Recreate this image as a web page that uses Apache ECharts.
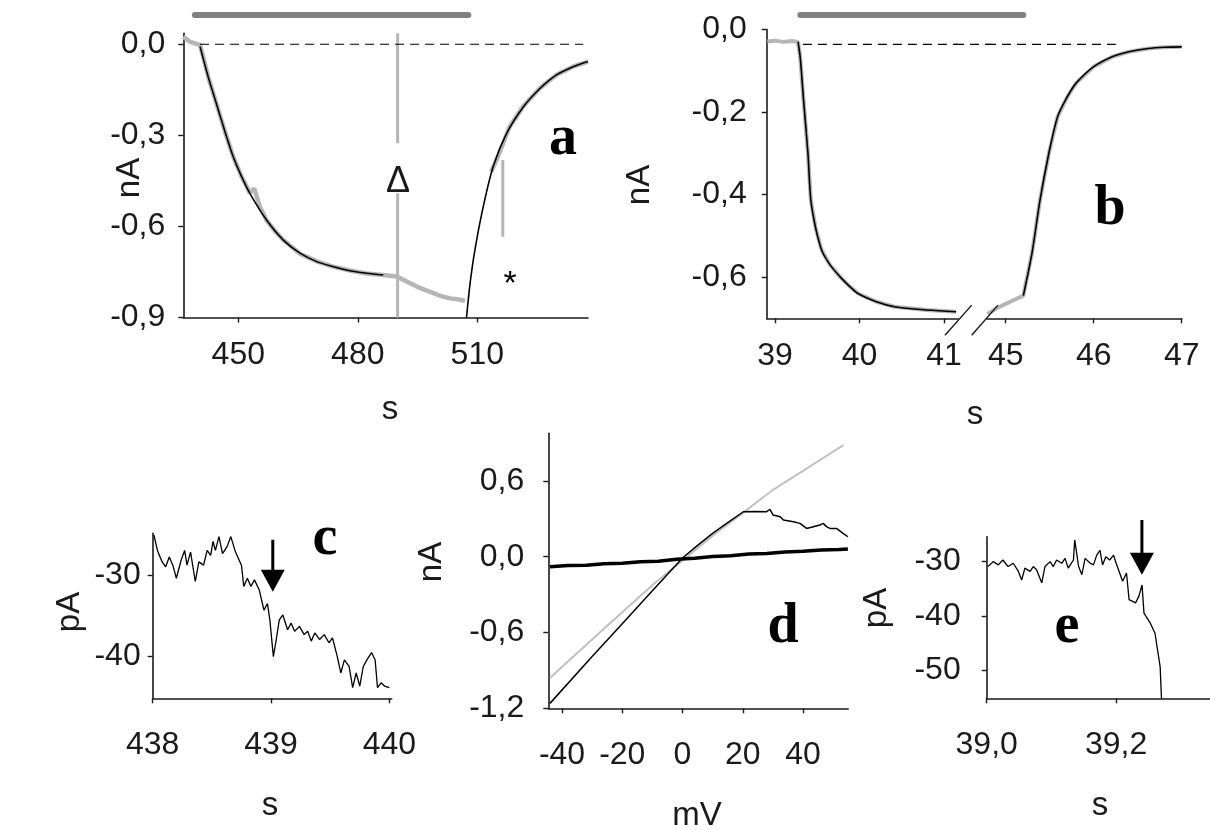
<!DOCTYPE html>
<html>
<head>
<meta charset="utf-8">
<script src="https://cdn.jsdelivr.net/npm/echarts@6/dist/echarts.min.js"></script>
<style>
html, body { margin: 0; background: #fff; }
#chart { width: 1210px; height: 830px; }
</style>
</head>
<body>
<div id="chart"></div>
<script>
// ---- panel a : slow current, s / nA ----
var aXTicks = [450, 480, 510];
var aYTicks = [0, -0.3, -0.6, -0.9];
var aTraceT = [436.2, 437.9, 440.4, 442.5, 444.6, 446.7, 448.7, 450.8, 452.9, 454.0, 455.4, 457.1, 459.2, 461.3, 465.5, 469.7, 473.9, 478.0, 482.2, 486.4, 489.8, 492.0, 494.8, 497.0, 499.0, 501.0, 503.2, 505.0, 506.9];
var aTraceI = [0.024, 0.008, -0.002, -0.11, -0.20, -0.29, -0.37, -0.435, -0.49, -0.475, -0.535, -0.58, -0.615, -0.645, -0.69, -0.715, -0.733, -0.745, -0.755, -0.76, -0.765, -0.78, -0.798, -0.81, -0.82, -0.83, -0.837, -0.84, -0.845];
var aTraceOffT = [513.5, 515.5, 518.0, 521.5, 525.7, 530.0, 534.0, 537.8];
var aTraceOffI = [-0.42, -0.36, -0.275, -0.205, -0.145, -0.10, -0.074, -0.057];
var aFitOnT = [440.4, 442.5, 444.6, 446.7, 448.7, 450.8, 452.9, 457.1, 461.3, 465.5, 469.7, 473.9, 478.0, 482.2, 486.4];
var aFitOnI = [-0.008, -0.11, -0.20, -0.29, -0.37, -0.435, -0.491, -0.579, -0.645, -0.688, -0.716, -0.733, -0.746, -0.754, -0.76];
var aFitOffT = [507.3, 508.2, 509.4, 511.5, 514.0, 517.4, 521.6, 525.8, 529.9, 534.1, 537.8];
var aFitOffI = [-0.90, -0.787, -0.678, -0.535, -0.403, -0.293, -0.206, -0.145, -0.101, -0.074, -0.057];
var aStimT = [439.1, 507.75], aStimLevel = 0.0965;
var aBaseT = [440.4, 536.6];
var aDeltaT = 490.0, aDeltaTop = [0.036, -0.326], aDeltaBottom = [-0.491, -0.9];
var aStarT = 516.4, aStarI = [-0.381, -0.634];

// ---- panel b : fast current, broken time axis ----
var bYTicks = [0, -0.2, -0.4, -0.6];
var bXTicksL = [39, 40, 41];
var bXTicksR = [45, 46, 47];
var bPreT = [38.91, 39.0, 39.1, 39.2];
var bPreI = [-0.029, -0.027, -0.03, -0.028];
var bOnT = [39.273, 39.30, 39.338, 39.39, 39.424, 39.48, 39.553, 39.65, 39.768, 39.87, 39.983, 40.2, 40.414, 40.8, 41.144];
var bOnI = [-0.03, -0.07, -0.171, -0.30, -0.413, -0.48, -0.535, -0.57, -0.599, -0.62, -0.64, -0.66, -0.672, -0.68, -0.684];
var bMidT = [44.79, 44.9, 45.0, 45.1];
var bMidI = [-0.69, -0.675, -0.665, -0.655];
var bOffT = [45.2, 45.3, 45.39, 45.49, 45.59, 45.7, 45.8, 46.0, 46.21, 46.4, 46.62, 46.8, 47.0];
var bOffI = [-0.645, -0.54, -0.413, -0.30, -0.211, -0.163, -0.13, -0.09, -0.066, -0.054, -0.046, -0.043, -0.042];
var bStimL = [39.30, 41.166], bStimR = [44.787, 45.20], bStimLevel = 0.035;
var bBaseL = [39.33, 41.166], bBaseR = [44.787, 46.25], bBaseLevel = -0.036;
// the axis break: bridge pieces and the two slashes, in 0..1 units across the gap
var bGapBridge = [0.25, 0.85];
var bSlash1 = [[0.083, -0.741], [0.528, -0.668]];
var bSlash2 = [[0.528, -0.741], [0.967, -0.668]];

// ---- panel c : onset, s / pA ----
var cXTicks = [438, 439, 440];
var cYTicks = [-30, -40];
var cT = [438.01, 438.04, 438.08, 438.11, 438.14, 438.17, 438.20, 438.24, 438.27, 438.29, 438.32, 438.36, 438.39, 438.43, 438.46, 438.49, 438.51, 438.53, 438.56, 438.59, 438.63, 438.66, 438.70, 438.75, 438.77, 438.80, 438.83, 438.86, 438.90, 438.94, 438.97, 438.99, 439.02, 439.04, 439.07, 439.10, 439.14, 439.17, 439.20, 439.24, 439.28, 439.31, 439.34, 439.37, 439.41, 439.45, 439.49, 439.52, 439.56, 439.59, 439.62, 439.66, 439.69, 439.72, 439.75, 439.78, 439.81, 439.85, 439.88, 439.90, 439.93, 439.96, 440.00];
var cI = [-25.1, -27.0, -28.4, -29.0, -27.8, -28.8, -30.4, -28.2, -27.0, -28.8, -27.2, -30.8, -28.4, -28.8, -27.0, -27.6, -25.9, -27.0, -25.3, -27.4, -26.5, -25.3, -27.2, -28.8, -31.4, -30.4, -31.4, -30.6, -31.8, -34.3, -33.5, -35.5, -40.0, -38.3, -35.5, -34.9, -36.7, -35.9, -36.9, -36.3, -37.3, -36.9, -38.1, -37.1, -37.9, -37.3, -38.3, -37.7, -40.0, -42.0, -40.4, -41.2, -43.8, -42.0, -43.6, -41.2, -40.4, -39.5, -40.4, -43.8, -43.2, -43.6, -43.8];
var cArrowT = 439.015, cArrowI = [-25.7, -30.7];

// ---- panel d : I-V, mV / nA ----
var dXTicks = [-40, -20, 0, 20, 40];
var dYTicks = [0.6, 0, -0.6, -1.2];
var dGreyV = [-44, -30, -20, -10, 0, 10, 20, 30, 40, 53.4];
var dGreyI = [-0.96, -0.655, -0.44, -0.225, -0.03, 0.165, 0.345, 0.528, 0.68, 0.884];
var dBlackV = [-44, -30, -20, -10, 0, 5, 10, 15, 20.2, 24, 27.9, 29.0, 30.1, 32.4, 33.5, 36.8, 39.0, 41.2, 43.4, 45.6, 46.7, 47.8, 48.9, 51.1, 53.3, 54.9];
var dBlackI = [-1.161, -0.79, -0.53, -0.27, -0.01, 0.09, 0.185, 0.27, 0.356, 0.358, 0.356, 0.375, 0.33, 0.317, 0.29, 0.277, 0.264, 0.224, 0.238, 0.251, 0.264, 0.238, 0.224, 0.224, 0.185, 0.158];
var dLeakV = [-44, -38, -32, -26, -20, -14, -8, -2, 4, 10, 16, 22, 28, 34, 40, 46, 52, 54.9];
var dLeakI = [-0.079, -0.07, -0.068, -0.056, -0.052, -0.04, -0.035, -0.02, -0.012, 0.002, 0.008, 0.021, 0.026, 0.038, 0.043, 0.054, 0.057, 0.062];

// ---- panel e : onset, s / pA ----
var eXTicks = [39.0, 39.2];
var eYTicks = [-30, -40, -50];
var eT = [39.002, 39.010, 39.018, 39.025, 39.033, 39.041, 39.049, 39.054, 39.059, 39.067, 39.072, 39.077, 39.085, 39.090, 39.098, 39.103, 39.108, 39.116, 39.121, 39.126, 39.134, 39.136, 39.142, 39.147, 39.152, 39.160, 39.165, 39.170, 39.175, 39.179, 39.184, 39.190, 39.196, 39.200, 39.210, 39.216, 39.220, 39.230, 39.235, 39.240, 39.243, 39.253, 39.260, 39.268, 39.270];
var eI = [-30.9, -30.0, -30.6, -29.7, -30.9, -30.3, -31.8, -33.4, -31.2, -31.8, -30.9, -31.5, -33.9, -30.9, -30.0, -30.9, -29.7, -30.3, -29.4, -31.2, -29.7, -26.0, -30.9, -32.4, -29.4, -30.3, -30.6, -28.8, -27.9, -30.6, -29.1, -29.7, -28.8, -30.3, -33.6, -32.1, -37.0, -37.6, -36.4, -34.3, -39.5, -41.4, -43.2, -49.4, -55.2];
var eArrowT = 39.2398, eArrowI = [-22.3, -30.4];

var chart = echarts.init(document.getElementById('chart'));

var FONT = 'Liberation Sans';
var INK = '#1a1a1a';
var GREY = '#b5b5b5';

function pairs(xs, ys) {
    return xs.map(function (x, i) { return [x, ys[i]]; });
}
function comma(d) {
    return function (v) { return v.toFixed(d).replace('.', ','); };
}
function axis(grid, min, max, ticks, fmt, margin, hidden) {
    var on = !hidden;
    return {
        type: 'value', gridIndex: grid, min: min, max: max, scale: true,
        axisLine: {show: on, onZero: false, lineStyle: {color: INK, width: 1.6}},
        axisTick: {show: on, customValues: ticks, length: 5, lineStyle: {color: INK, width: 1.4}},
        axisLabel: {show: on, customValues: ticks, formatter: fmt, margin: margin,
                    color: INK, fontFamily: FONT, fontSize: 32},
        splitLine: {show: false}
    };
}
function line(ax, data, color, width, extra) {
    var s = {
        type: 'line', xAxisIndex: ax, yAxisIndex: ax, data: data,
        symbol: 'none', silent: true, animation: false,
        lineStyle: {color: color, width: width}
    };
    for (var k in extra) s[k] = extra[k];
    return s;
}
// arrow = thick shaft + downward triangle head at the lower end
function arrowShaft(ax, t, ys) {
    return line(ax, [[t, ys[0]], [t, ys[1]]], '#000', 3, {clip: false, z: 5});
}
function arrowHead(ax, t, ys) {
    return {
        type: 'scatter', xAxisIndex: ax, yAxisIndex: ax, data: [[t, ys[1]]],
        symbol: 'triangle', symbolRotate: 180, symbolSize: [24, 22], clip: false,
        silent: true, z: 5, itemStyle: {color: '#000', opacity: 1}
    };
}
function text(str, x, y, size, opts) {
    var o = opts || {};
    return {
        type: 'text', x: x, y: y, rotation: o.rot || 0, silent: true,
        style: {text: str, fill: o.fill || INK, align: 'center', verticalAlign: 'middle',
                font: (o.weight || 'normal') + ' ' + size + 'px ' + (o.family || FONT)}
    };
}
function letter(str, x, y) {
    return text(str, x, y, 56, {weight: 'bold', family: 'Liberation Serif', fill: '#000'});
}

var option = {
    backgroundColor: '#fff',
    animation: false,
    grid: [
        {left: 183.3, top: 33.3, width: 404.7, height: 284.2},   // a
        {left: 766.7, top: 29.5, width: 191.3, height: 288.8},   // b left
        {left: 987, top: 29.5, width: 194.7, height: 288.8},     // b right
        {left: 152.7, top: 533.3, width: 239, height: 165},      // c
        {left: 548.3, top: 433.3, width: 299.9, height: 275},    // d
        {left: 986.7, top: 536.7, width: 223.3, height: 161.6},  // e
        {left: 940, top: 29.5, width: 60, height: 288.8}         // b break
    ],
    xAxis: [
        axis(0, 436.19, 537.8, aXTicks, comma(0), 22),
        axis(1, 38.902, 41.166, bXTicksL, comma(0), 22),
        axis(2, 44.787, 47, bXTicksR, comma(0), 22),
        axis(3, 438, 440.02, cXTicks, comma(0), 31),
        axis(4, -44.55, 55, dXTicks, comma(0), 31),
        axis(5, 39.0, 39.345, eXTicks, comma(1), 31),
        axis(6, 0, 1, [], comma(0), 0, true)
    ],
    yAxis: [
        axis(0, -0.9, 0.036, aYTicks, comma(1), 18),
        axis(1, -0.7, 0.0, bYTicks, comma(1), 20),
        axis(2, -0.7, 0.0, [], comma(1), 0, true),
        axis(3, -45.1, -24.9, cYTicks, comma(0), 12),
        axis(4, -1.2, 0.977, dYTicks, comma(1), 24),
        axis(5, -55.2, -25.4, eYTicks, comma(0), 26),
        axis(6, -0.7, 0.0, [], comma(1), 0, true)
    ],
    series: [
        // a
        line(0, pairs(aTraceT, aTraceI), GREY, 4.5, {z: 2}),
        line(0, pairs(aTraceOffT, aTraceOffI), GREY, 4.5, {z: 2}),
        line(0, pairs(aFitOnT, aFitOnI), '#000', 1.6, {z: 3, smooth: 0.3}),
        line(0, pairs(aFitOffT, aFitOffI), '#000', 1.6, {z: 3, smooth: 0.3}),
        line(0, pairs(aStimT, [aStimLevel, aStimLevel]), '#808080', 6, {clip: false, lineStyle: {color: '#808080', width: 6, cap: 'round'}}),
        line(0, pairs(aBaseT, [0, 0]), '#000', 1.2, {lineStyle: {color: '#000', width: 1.2, type: [9, 6]}}),
        line(0, pairs([aDeltaT, aDeltaT], aDeltaTop), GREY, 3, {z: 1}),
        line(0, pairs([aDeltaT, aDeltaT], aDeltaBottom), GREY, 3, {z: 1}),
        line(0, pairs([aStarT, aStarT], aStarI), GREY, 3, {z: 1}),
        // b
        line(1, pairs(bPreT.concat(bOnT), bPreI.concat(bOnI)), GREY, 4, {z: 2}),
        line(1, pairs(bOnT, bOnI), '#000', 1.6, {z: 3, smooth: 0.3}),
        line(2, pairs(bMidT.concat(bOffT), bMidI.concat(bOffI)), GREY, 4, {z: 2}),
        line(2, pairs(bOffT, bOffI), '#000', 1.6, {z: 3, smooth: 0.3}),
        line(1, pairs(bStimL, [bStimLevel, bStimLevel]), '#808080', 6, {clip: false, lineStyle: {color: '#808080', width: 6, cap: 'round'}}),
        line(2, pairs(bStimR, [bStimLevel, bStimLevel]), '#808080', 6, {clip: false, lineStyle: {color: '#808080', width: 6, cap: 'round'}}),
        line(6, pairs(bGapBridge, [bStimLevel, bStimLevel]), '#808080', 6, {clip: false}),
        line(1, pairs(bBaseL, [bBaseLevel, bBaseLevel]), '#000', 1.2, {clip: false, lineStyle: {color: '#000', width: 1.2, type: [9, 6]}}),
        line(2, pairs(bBaseR, [bBaseLevel, bBaseLevel]), '#000', 1.2, {clip: false, lineStyle: {color: '#000', width: 1.2, type: [9, 6]}}),
        line(6, pairs(bGapBridge, [bBaseLevel, bBaseLevel]), '#000', 1.2, {clip: false, lineStyle: {color: '#000', width: 1.2, type: [9, 6]}}),
        line(6, bSlash1, INK, 1.4, {clip: false}),
        line(6, bSlash2, INK, 1.4, {clip: false}),
        // c
        line(3, pairs(cT, cI), '#000', 1.3),
        arrowShaft(3, cArrowT, cArrowI),
        arrowHead(3, cArrowT, cArrowI),
        // d
        line(4, pairs(dGreyV, dGreyI), '#c0c0c0', 2, {z: 2, smooth: 0.2}),
        line(4, pairs(dBlackV, dBlackI), '#000', 1.5, {z: 3}),
        line(4, pairs(dLeakV, dLeakI), '#000', 3.5, {z: 3}),
        // e
        line(5, pairs(eT, eI), '#000', 1.3),
        arrowShaft(5, eArrowT, eArrowI),
        arrowHead(5, eArrowT, eArrowI)
    ],
    graphic: [
        text('nA', 130, 178, 33, {rot: Math.PI / 2}),
        text('s', 390, 410, 33),
        text('nA', 640, 185, 33, {rot: Math.PI / 2}),
        text('s', 975, 415, 33),
        text('pA', 70, 612, 33, {rot: Math.PI / 2}),
        text('s', 270, 806, 33),
        text('nA', 432, 562, 33, {rot: Math.PI / 2}),
        text('mV', 697, 816, 33),
        text('pA', 877, 608, 33, {rot: Math.PI / 2}),
        text('s', 1100, 806, 33),
        letter('a', 563, 140),
        letter('b', 1110, 210),
        letter('c', 325, 540),
        letter('d', 783, 628),
        letter('e', 1067, 628),
        text('\u0394', 398, 182, 36),
        text('*', 510, 285, 34, {fill: '#000'})
    ]
};
chart.setOption(option);
</script>
</body>
</html>
